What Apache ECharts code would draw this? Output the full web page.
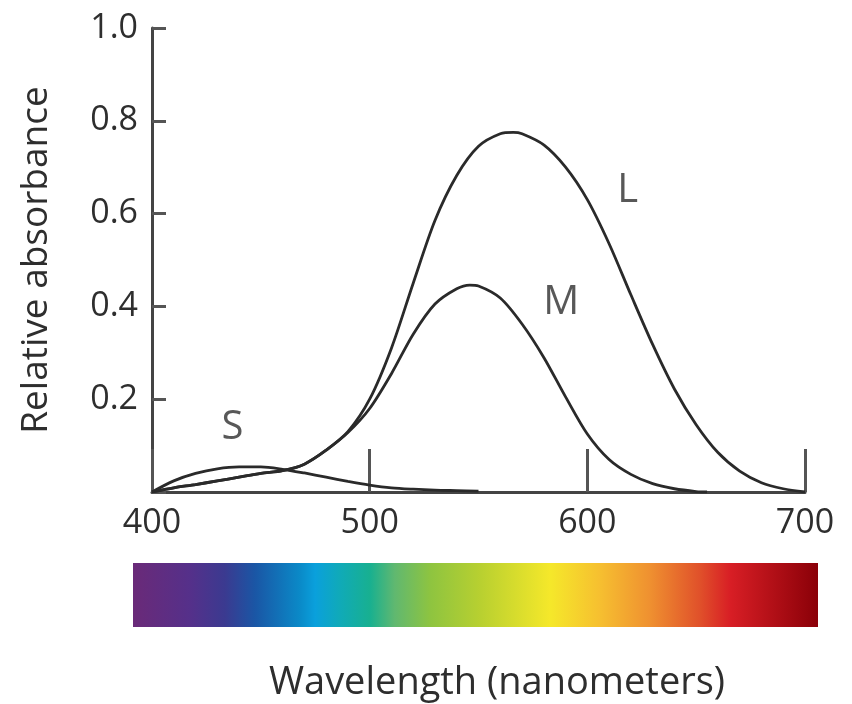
<!DOCTYPE html>
<html>
<head>
<meta charset="utf-8">
<script src="https://cdn.jsdelivr.net/npm/echarts@6/dist/echarts.min.js"></script>
<style>
  html, body { margin: 0; padding: 0; background: #ffffff; }
  #chart { width: 852px; height: 704px; }
</style>
</head>
<body>
<div id="chart"></div>
<script>
// ---- Data ----
var xTicks = [400, 500, 600, 700];
var yTicks = [0.2, 0.4, 0.6, 0.8, 1.0];

var sWavelengths = [400, 410, 420, 430, 440, 450, 460, 470, 480, 490, 500, 510, 520, 530, 540, 550];
var sValues      = [0, 0.024, 0.040, 0.050, 0.054, 0.054, 0.049, 0.041, 0.032, 0.023, 0.015, 0.009, 0.006, 0.004, 0.003, 0.002];

var mWavelengths = [400, 410, 420, 430, 440, 450, 460, 470, 480, 490, 500, 510, 520, 530, 540, 546, 550, 560, 570, 580, 590, 600, 610, 620, 630, 640, 650, 655];
var mValues      = [0, 0.009, 0.016, 0.024, 0.032, 0.040, 0.046, 0.060, 0.090, 0.128, 0.180, 0.255, 0.340, 0.405, 0.438, 0.446, 0.444, 0.418, 0.362, 0.290, 0.205, 0.125, 0.070, 0.038, 0.018, 0.007, 0.001, 0];

var lWavelengths = [400, 410, 420, 430, 440, 450, 460, 470, 480, 490, 500, 510, 520, 530, 540, 550, 560, 566, 570, 580, 590, 600, 610, 620, 630, 640, 650, 660, 670, 680, 690, 700];
var lValues      = [0, 0.009, 0.016, 0.024, 0.032, 0.040, 0.046, 0.060, 0.090, 0.130, 0.200, 0.310, 0.450, 0.585, 0.682, 0.745, 0.772, 0.775, 0.772, 0.748, 0.700, 0.630, 0.535, 0.425, 0.318, 0.222, 0.145, 0.085, 0.045, 0.020, 0.007, 0];

var curveNames       = ['S', 'M', 'L'];
var curveLabelWl     = [437, 588, 618.5];
var curveLabelValues = [0.138, 0.409, 0.649];

var spectrumStops  = [0, 0.083, 0.134, 0.178, 0.244, 0.266, 0.302, 0.346, 0.382, 0.434, 0.507, 0.609, 0.682, 0.755, 0.828, 0.872, 1.0];
var spectrumColors = ['#6a2a78', '#55308a', '#3b3a90', '#1a56a5', '#0a8ac8', '#0aa0dc', '#10aab8', '#18b090', '#60b870', '#8ec440', '#b8d030', '#f5e82a', '#f6bf30', '#ef9030', '#e0502a', '#d81e25', '#8a0008'];

var xTitle = 'Wavelength (nanometers)';
var yTitle = 'Relative absorbance';

// ---- Build ----
function pairs(xs, ys) { return xs.map(function (x, i) { return [x, ys[i]]; }); }

var FONT = '"Open Sans", "Noto Sans", sans-serif';
var INK = '#2e2e2e';

var chart = echarts.init(document.getElementById('chart'), null, { renderer: 'canvas' });

var lineStyle = { color: '#2a2a2a', width: 2.8 };
function curve(name, xs, ys) {
  return {
    name: name, type: 'line', data: pairs(xs, ys), smooth: 0.3,
    showSymbol: false, symbol: 'none', lineStyle: lineStyle, silent: true, z: 3
  };
}

var option = {
  backgroundColor: '#ffffff',
  animation: false,
  textStyle: { fontFamily: FONT },
  grid: { left: 152, right: 47, top: 28, bottom: 212 },
  xAxis: {
    type: 'value', min: xTicks[0], max: xTicks[xTicks.length - 1], interval: 100,
    splitLine: { show: false },
    axisLine: { lineStyle: { color: '#444', width: 3 } },
    axisTick: { inside: true, length: 43, lineStyle: { color: '#555', width: 3 } },
    axisLabel: { fontSize: 34, color: INK, margin: 14, fontFamily: FONT }
  },
  yAxis: {
    type: 'value', min: 0, max: yTicks[yTicks.length - 1], interval: 0.2,
    splitLine: { show: false },
    name: yTitle, nameLocation: 'middle', nameRotate: 90, nameGap: 97,
    nameTextStyle: { fontSize: 37, color: INK, fontFamily: FONT },
    axisLine: { show: true, lineStyle: { color: '#444', width: 3 } },
    axisTick: { show: true, inside: true, length: 14, lineStyle: { color: '#555', width: 3 } },
    axisLabel: {
      fontSize: 34, color: INK, margin: 14, fontFamily: FONT,
      formatter: function (v) { return yTicks.indexOf(+v.toFixed(1)) >= 0 ? v.toFixed(1) : ''; }
    }
  },
  series: [
    curve('S', sWavelengths, sValues),
    curve('M', mWavelengths, mValues),
    curve('L', lWavelengths, lValues),
    {
      name: 'labels', type: 'scatter', symbolSize: 0, silent: true, z: 4,
      data: curveNames.map(function (n, i) { return { name: n, value: [curveLabelWl[i], curveLabelValues[i]] }; }),
      label: {
        show: true, position: 'inside', formatter: '{b}',
        fontSize: 40, color: INK, fontFamily: FONT
      }
    }
  ],
  graphic: [
    {
      type: 'rect', left: 133, top: 563, silent: true,
      shape: { width: 685, height: 64 },
      style: {
        fill: new echarts.graphic.LinearGradient(0, 0, 1, 0,
          spectrumStops.map(function (o, i) { return { offset: o, color: spectrumColors[i] }; }))
      }
    },
    {
      type: 'text', x: 497, y: 683, silent: true,
      style: { text: xTitle, font: '38px ' + FONT, fill: INK, textAlign: 'center', textVerticalAlign: 'middle' }
    }
  ]
};
chart.setOption(option);
</script>
</body>
</html>
